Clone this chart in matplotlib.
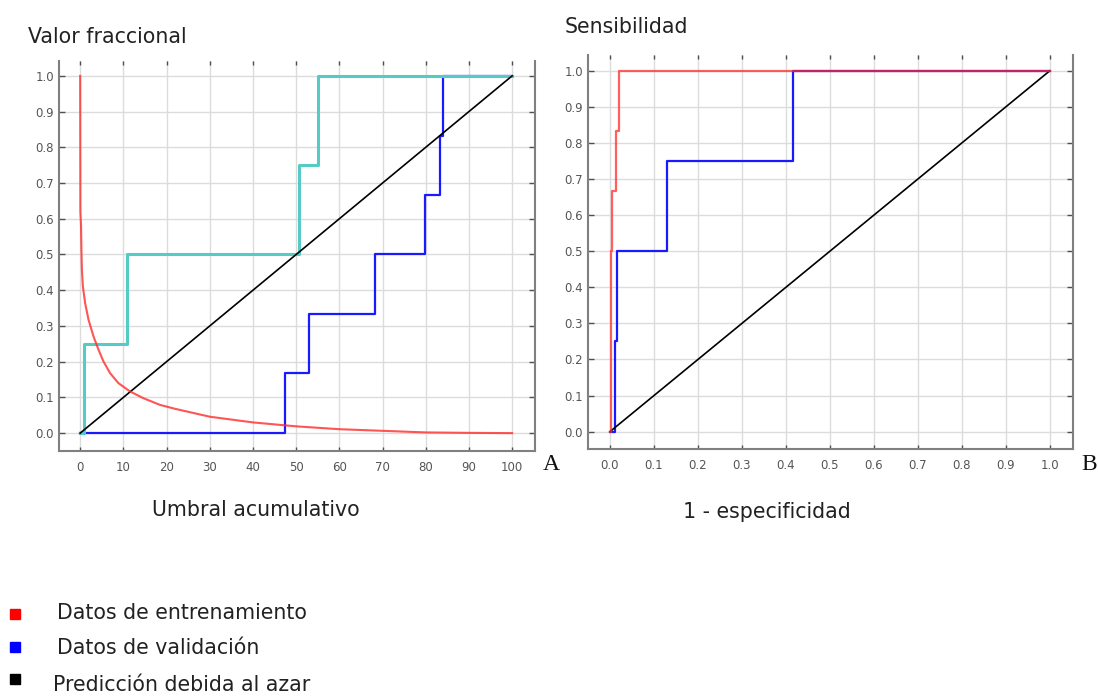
import matplotlib
matplotlib.use("Agg")
import matplotlib.pyplot as plt
from matplotlib.patches import Rectangle

# panel A: umbral acumulativo (0-100) vs valor fraccional
omission_x = [0, 0.05, 0.2, 0.3, 0.4, 0.62, 1.15, 1.92, 3.08, 4.23, 5.38, 6.92, 8.85,
              11.5, 14.6, 18.5, 22, 30, 40, 50, 60, 70, 80, 90, 100]
omission_y = [1.0, 0.62, 0.58, 0.51, 0.458, 0.411, 0.364, 0.318, 0.271, 0.234, 0.201,
              0.168, 0.14, 0.117, 0.098, 0.079, 0.068, 0.046, 0.030, 0.019, 0.011,
              0.0065, 0.002, 0.0008, 0.0]
test_x = [0, 0.8, 10.9, 50.6, 55.0, 100]
test_y = [0, 0.25, 0.5, 0.75, 1.0, 1.0]
valid_x = [0, 47.5, 53.0, 68.3, 79.9, 83.4, 84.0, 100]
valid_y = [0, 0.167, 0.333, 0.5, 0.667, 0.833, 1.0, 1.0]
chance_a = [0, 100]
chance_a_y = [0, 1]

# panel B: ROC
train_fpr = [0, 0.002, 0.005, 0.0146, 0.020, 1.0]
train_tpr = [0, 0.5, 0.667, 0.833, 1.0, 1.0]
val_fpr = [0, 0.012, 0.017, 0.129, 0.417, 1.0]
val_tpr = [0, 0.25, 0.5, 0.75, 1.0, 1.0]
chance_b = [0, 1]

W, H = 1098, 696
fig = plt.figure(figsize=(W / 100, H / 100), dpi=100)
fig.patch.set_facecolor("white")


def px(x, y):
    return x / W, 1 - y / H


def style_axes(ax):
    ax.grid(True, color="#dcdcdc", linewidth=1.0)
    ax.set_axisbelow(True)
    ax.spines["top"].set_visible(False)
    for s in ["left", "bottom", "right"]:
        ax.spines[s].set_color("#808080")
        ax.spines[s].set_linewidth(1.5)
    ax.tick_params(direction="in", length=4, width=1, color="#505050",
                   top=True, right=True, labelsize=8.5, labelcolor="#555555")
    ax.tick_params(axis="x", length=3, pad=7)
    ax.tick_params(axis="y", pad=3.5)
    for lab in ax.get_xticklabels() + ax.get_yticklabels():
        lab.set_family("DejaVu Sans")


# left panel
axA = fig.add_axes([59 / W, 1 - 451 / H, 476 / W, 390.5 / H])
axA.plot(valid_x, valid_y, drawstyle="steps-post", color="#1a1aff", linewidth=1.6)
axA.plot(test_x, test_y, drawstyle="steps-post", color="#55cbc5", linewidth=2.2)
axA.plot(chance_a, chance_a_y, color="black", linewidth=1.2)
axA.plot(omission_x, omission_y, color="#ff2a2a", linewidth=1.5, alpha=0.8)
axA.set_xlim(-4.9, 105.3)
axA.set_ylim(-0.05, 1.043)
axA.set_xticks(range(0, 101, 10))
axA.set_yticks([i / 10 for i in range(11)])
axA.set_yticklabels([f"{i / 10:.1f}" for i in range(11)])
style_axes(axA)

# right panel
axB = fig.add_axes([588 / W, 1 - 449.3 / H, 485 / W, 394.3 / H])
axB.plot(val_fpr, val_tpr, drawstyle="steps-post", color="#1a1aff", linewidth=1.6)
axB.plot(chance_b, chance_b, color="black", linewidth=1.2)
axB.plot(train_fpr, train_tpr, drawstyle="steps-post", color="#ff2a2a", linewidth=1.6, alpha=0.75)
axB.set_xlim(-0.05, 1.053)
axB.set_ylim(-0.049, 1.044)
axB.set_xticks([i / 10 for i in range(11)])
axB.set_xticklabels([f"{i / 10:.1f}" for i in range(11)])
axB.set_yticks([i / 10 for i in range(11)])
axB.set_yticklabels([f"{i / 10:.1f}" for i in range(11)])
style_axes(axB)

txt = dict(family="DejaVu Sans", color="#222222", fontsize=14.8, va="center")
fig.text(*px(28, 37), "Valor fraccional", ha="left", **txt)
fig.text(*px(565, 27), "Sensibilidad", ha="left", **txt)
fig.text(*px(256, 510), "Umbral acumulativo", ha="center", **txt)
fig.text(*px(767, 512), "1 - especificidad", ha="center", **txt)

serif = dict(family="Liberation Serif", color="#111111", fontsize=17, va="center", ha="center")
fig.text(*px(551, 465), "A", **serif)
fig.text(*px(1089, 465), "B", **serif)

legend_items = [("#ff0000", "Datos de entrenamiento", 614, 57, 613),
                ("#0000ff", "Datos de validación", 647, 57, 648),
                ("#000000", "Predicción debida al azar", 679, 53, 685)]
for color, label, sq_y, tx, ty in legend_items:
    fig.patches.append(Rectangle(px(10, sq_y + 5), 10 / W, 10 / H, color=color,
                                 transform=fig.transFigure, figure=fig))
    fig.text(*px(tx, ty), label, ha="left", **txt)

fig.savefig("out.png", dpi=100)
